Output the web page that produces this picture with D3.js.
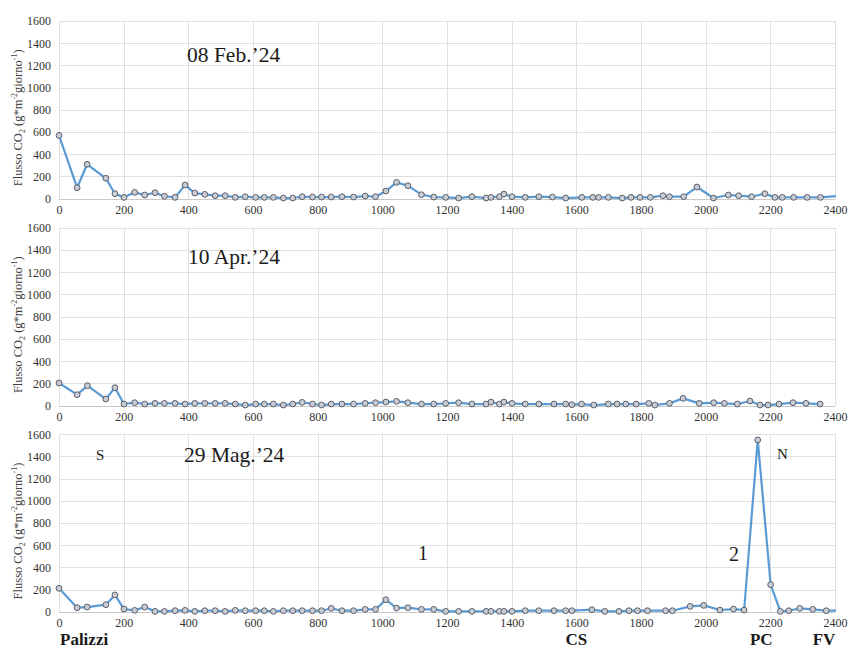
<!DOCTYPE html>
<html><head><meta charset="utf-8">
<script src="https://cdn.jsdelivr.net/npm/d3@7"></script>
<style>body{margin:0;background:#fff;}svg{display:block;}</style>
</head><body><div id="chart"></div>
<script>
const xTicks = [0,200,400,600,800,1000,1200,1400,1600,1800,2000,2200,2400];
const yTicks = [0,200,400,600,800,1000,1200,1400,1600];

const febDist = [0,56,87,145,173,201,234,265,297,326,359,390,420,451,483,514,545,576,608,635,663,694,723,752,784,812,842,875,911,947,979,1011,1044,1079,1121,1159,1196,1236,1277,1321,1336,1362,1376,1401,1442,1484,1526,1567,1617,1651,1669,1699,1742,1769,1797,1829,1868,1888,1932,1973,2024,2070,2102,2142,2183,2214,2237,2272,2314,2355,2430];
const febFlux = [570,99,310,184,45,12,57,33,54,22,12,123,51,39,27,27,12,18,12,12,12,6,6,18,15,15,15,18,15,24,18,69,147,117,36,15,12,6,18,6,12,18,42,18,12,18,15,6,12,12,12,12,6,12,12,12,27,18,18,105,6,33,27,18,45,12,12,12,12,12,29];

const aprDist = [0,56,88,145,173,201,234,265,297,326,359,390,420,451,483,514,545,576,608,635,663,694,723,752,784,812,842,875,911,947,979,1011,1044,1079,1121,1159,1196,1236,1277,1321,1336,1362,1376,1401,1442,1484,1531,1567,1586,1616,1654,1699,1726,1753,1785,1824,1843,1888,1930,1980,2025,2058,2098,2137,2168,2193,2227,2270,2310,2354];
const aprFlux = [204,99,180,60,162,15,27,15,21,21,21,15,21,21,21,21,15,6,15,15,15,6,15,30,15,6,15,15,15,21,27,33,39,27,15,15,21,27,15,15,33,15,33,21,15,15,15,15,9,15,6,15,15,15,15,21,6,21,66,21,27,21,15,42,6,6,15,27,21,15];

const magDist = [0,56,87,145,173,201,234,265,297,326,359,390,420,451,483,514,545,576,608,635,663,694,723,752,784,812,842,875,911,947,979,1011,1044,1079,1121,1159,1196,1236,1277,1321,1336,1362,1376,1401,1442,1484,1531,1567,1586,1648,1688,1732,1763,1789,1820,1876,1897,1952,1994,2044,2086,2119,2161,2201,2231,2257,2291,2331,2373,2430];
const magFlux = [211,36,42,63,151,24,12,42,3,3,9,12,3,9,9,3,12,9,9,9,3,9,9,9,9,9,30,9,9,21,21,108,33,36,21,21,3,3,3,3,3,3,3,3,9,9,9,9,9,18,3,3,9,9,9,9,9,48,57,15,24,15,1549,244,3,9,30,21,9,9];

const dateLabels = ["08 Feb.\u201924","10 Apr.\u201924","29 Mag.\u201924"];
const siteLabels = ["Palizzi","CS","PC","FV"];
const siteDist = [0,1600,2200,2400];

const W = 848, H = 648;
const svg = d3.select("#chart").append("svg").attr("width",W).attr("height",H);
const serif = "'Liberation Serif','Times New Roman',serif";

const panels = [
  {dist: febDist, flux: febFlux, top: 21, bottom: 198.7, label: dateLabels[0]},
  {dist: aprDist, flux: aprFlux, top: 227.7, bottom: 405.7, label: dateLabels[1]},
  {dist: magDist, flux: magFlux, top: 434.3, bottom: 611.7, label: dateLabels[2]}
];
const x = d3.scaleLinear().domain([0,2400]).range([59,835]);

panels.forEach((p,i)=>{
  const y = d3.scaleLinear().domain([0,1600]).range([p.bottom,p.top]);
  const g = svg.append("g");
  g.append("g").selectAll("line").data(yTicks).join("line")
    .attr("x1",x(0)).attr("x2",x(2400))
    .attr("y1",d=>Math.round(y(d))+0.5).attr("y2",d=>Math.round(y(d))+0.5)
    .attr("stroke",d=>d===0?"#c8c8c8":"#e0e0e0").attr("stroke-width",1);
  g.append("g").selectAll("line").data(xTicks).join("line")
    .attr("y1",y(1600)).attr("y2",y(0))
    .attr("x1",d=>Math.round(x(d))+0.5).attr("x2",d=>Math.round(x(d))+0.5)
    .attr("stroke","#e0e0e0").attr("stroke-width",1);
  const ax = g.append("g").attr("transform",`translate(0,${p.bottom})`)
    .call(d3.axisBottom(x).tickValues(xTicks).tickSize(0).tickPadding(7).tickFormat(d3.format("d")));
  ax.select(".domain").remove();
  ax.attr("font-family",serif);
  ax.selectAll("text").style("font-family",serif).attr("font-size",12).attr("fill","#333");
  const ay = g.append("g").attr("transform",`translate(59,0)`)
    .call(d3.axisLeft(y).tickValues(yTicks).tickSize(0).tickPadding(8).tickFormat(d3.format("d")));
  ay.select(".domain").remove();
  ay.attr("font-family",serif);
  ay.selectAll("text").style("font-family",serif).attr("font-size",12).attr("fill","#333");
  const cy = (p.top+p.bottom)/2 + 8;
  const t = g.append("text").attr("transform",`translate(22,${cy}) rotate(-90)`)
    .attr("text-anchor","middle").style("font-family",serif).attr("font-size",12.5).attr("fill","#404040");
  t.append("tspan").text("Flusso CO");
  t.append("tspan").attr("font-size",8).attr("dy",3).text("2");
  t.append("tspan").attr("dy",-3).text(" (g*m");
  t.append("tspan").attr("font-size",8).attr("dy",-5).text("-2");
  t.append("tspan").attr("dy",5).text("giorno");
  t.append("tspan").attr("font-size",8).attr("dy",-5).text("-1");
  t.append("tspan").attr("dy",5).text(")");
  const cid = "clip"+i;
  svg.append("clipPath").attr("id",cid).append("rect")
    .attr("x",50).attr("y",p.top-10).attr("width",836-50).attr("height",p.bottom-p.top+20);
  const data = p.dist.map((d,k)=>({d, v:p.flux[k]}));
  const line = d3.line().x(d=>x(d.d)).y(d=>y(d.v));
  const pg = g.append("g").attr("clip-path",`url(#${cid})`);
  pg.append("path").datum(data).attr("d",line).attr("fill","none")
    .attr("stroke","#5b9bd5").attr("stroke-width",2.2).attr("stroke-linejoin","round");
  pg.selectAll("circle").data(data).join("circle")
    .attr("cx",d=>x(d.d)).attr("cy",d=>y(d.v)).attr("r",2.9)
    .attr("fill","#c9ccd3").attr("stroke","#5a5f6b").attr("stroke-width",1);
  g.append("text").attr("x",[187,188,184][i]).attr("y",[62,263.5,461.5][i])
    .style("font-family",serif).attr("font-size",21.5).attr("fill","#1a1a1a").text(p.label);
  if(i===2){
    const ann = [["S",96,460,15],["N",777,459,15],["1",418,560,20],["2",729,561,20]];
    ann.forEach(a=>g.append("text").attr("x",a[1]).attr("y",a[2]).style("font-family",serif)
      .attr("font-size",a[3]).attr("fill","#1a1a1a").text(a[0]));
    const off = [1,0,-9,-11];
    g.selectAll(".site").data(siteLabels).join("text").attr("class","site")
      .attr("x",(d,k)=>x(siteDist[k])+off[k])
      .attr("y",645).attr("text-anchor",(d,k)=>k===0?"start":"middle")
      .style("font-family",serif).attr("font-weight","bold").attr("font-size",17).attr("fill","#1a1a1a")
      .text(d=>d);
  }
});
</script></body></html>
